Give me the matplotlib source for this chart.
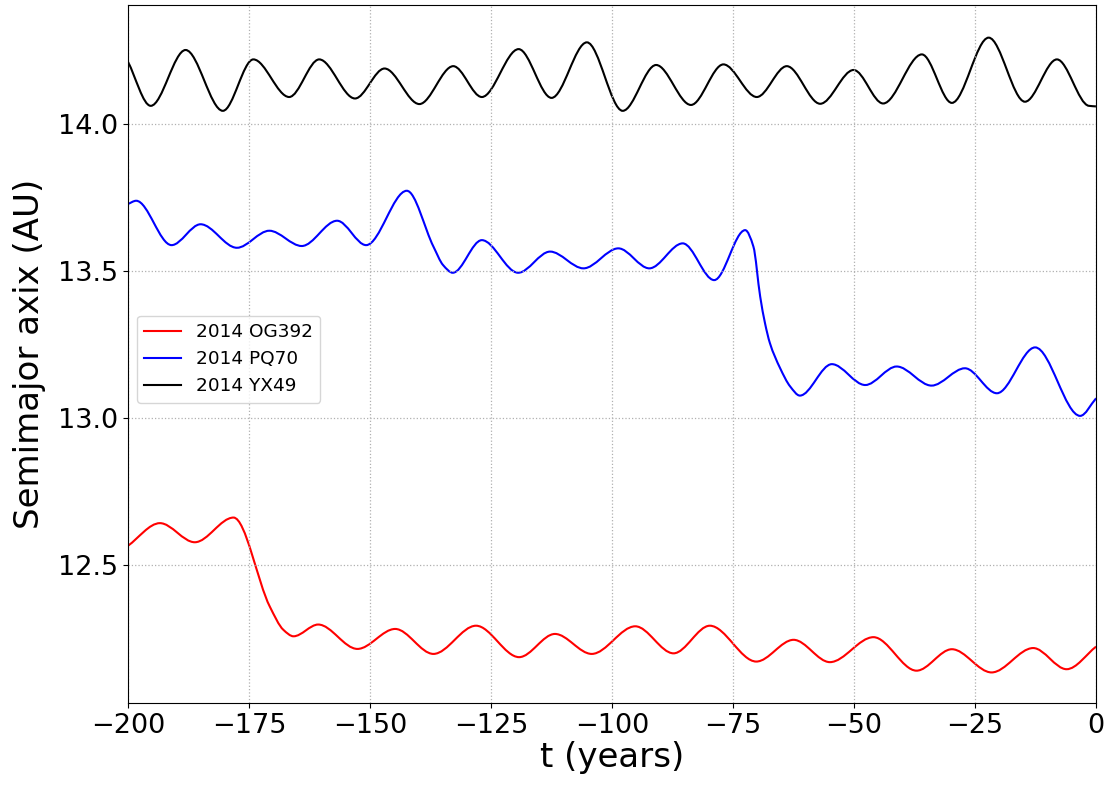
import numpy as np
import matplotlib
matplotlib.use("Agg")
import matplotlib.pyplot as plt
from matplotlib.path import Path
from matplotlib.patches import PathPatch
from matplotlib.lines import Line2D

# Values (turning points and shape points), t in years
og392_t = [-200, -193.4, -186.2, -178.2, -170.7, -167.9, -165.8, -160.7, -152.6,
           -144.8, -136.9, -128.1, -119.2, -111.8, -104.2, -95.2, -87.3, -79.8, -70.2, -62.5,
           -55.0, -46.0, -37.1, -29.8, -21.6, -13.0, -6.1, 0]
og392_a = [12.565, 12.642, 12.577, 12.661, 12.358, 12.279, 12.257, 12.297, 12.214,
           12.282, 12.197, 12.293, 12.186, 12.265, 12.197, 12.291, 12.199, 12.293, 12.171, 12.245,
           12.169, 12.254, 12.140, 12.213, 12.134, 12.217, 12.145, 12.222]

pq70_t = [-200, -198.3, -191.0, -185.0, -177.5, -170.8, -164.1, -156.8, -150.8, -142.4,
          -136.9, -134.9, -132.9, -126.9, -119.4, -112.8, -105.9, -98.7, -92.3, -85.4, -78.9,
          -72.5, -70.8, -69.4, -68.4, -67.4, -65.3, -63.2, -61.2, -54.6, -47.7, -41.2, -34.0,
          -27.1, -20.5, -12.6, -3.3, 0]
pq70_a = [13.728, 13.739, 13.588, 13.659, 13.579, 13.637, 13.585, 13.671, 13.588, 13.773,
          13.583, 13.520, 13.494, 13.605, 13.494, 13.566, 13.509, 13.577, 13.509, 13.594, 13.469,
          13.639, 13.583, 13.413, 13.322, 13.255, 13.170, 13.107, 13.076, 13.183, 13.112, 13.175, 13.110,
          13.169, 13.084, 13.240, 13.007, 13.067]

yx49_t = [-200, -195.3, -188.1, -180.4, -174.1, -166.7, -160.5, -153.1, -147.0, -139.8, -132.8,
          -126.9, -119.3, -112.5, -105.2, -97.8, -90.9, -83.7, -77.0, -70.1, -63.9, -57.0,
          -50.1, -44.0, -36.0, -29.8, -22.2, -14.7, -8.1, -1.5, 0]
yx49_a = [14.212, 14.062, 14.252, 14.045, 14.220, 14.092, 14.220, 14.087, 14.189, 14.068, 14.197,
          14.092, 14.255, 14.089, 14.278, 14.045, 14.201, 14.065, 14.203, 14.092, 14.197, 14.069,
          14.184, 14.070, 14.237, 14.072, 14.294, 14.076, 14.220, 14.062, 14.060]

labels = ["2014 OG392", "2014 PQ70", "2014 YX49"]
colors = ["red", "blue", "black"]


def smooth_path(t, a):
    """Build a smooth Bezier path through the read points (shape-preserving tangents)."""
    t = np.asarray(t, float)
    a = np.asarray(a, float)
    h = np.diff(t)
    d = np.diff(a) / h
    n = len(t)
    m = np.zeros(n)
    m[0] = d[0]
    m[-1] = d[-1]
    for k in range(1, n - 1):
        if d[k - 1] * d[k] <= 0:
            m[k] = 0.0
        else:
            w1 = 2 * h[k] + h[k - 1]
            w2 = h[k] + 2 * h[k - 1]
            m[k] = (w1 + w2) / (w1 / d[k - 1] + w2 / d[k])
    verts = [(t[0], a[0])]
    codes = [Path.MOVETO]
    for i in range(n - 1):
        verts += [(t[i] + h[i] / 3, a[i] + m[i] * h[i] / 3),
                  (t[i + 1] - h[i] / 3, a[i + 1] - m[i + 1] * h[i] / 3),
                  (t[i + 1], a[i + 1])]
        codes += [Path.CURVE4] * 3
    return Path(verts, codes)


fig = plt.figure(figsize=(11.09, 7.86), dpi=100)
ax = fig.add_axes([0.1154, 0.1056, 0.873, 0.888])

series = [(og392_t, og392_a), (pq70_t, pq70_a), (yx49_t, yx49_a)]
handles = []
for (t, a), c, lab in zip(series, colors, labels):
    ax.add_patch(PathPatch(smooth_path(t, a), facecolor="none", edgecolor=c, lw=1.5))
    handles.append(Line2D([0], [0], color=c, lw=1.5, label=lab))

ax.set_xlim(-200, 0)
ax.set_ylim(12.03, 14.405)
ax.set_xticks([-200, -175, -150, -125, -100, -75, -50, -25, 0])
ax.set_yticks([12.5, 13.0, 13.5, 14.0])
ax.tick_params(labelsize=19.5)
ax.grid(True, linestyle=":", color="#b0b0b0", lw=0.9)
ax.set_xlabel("t (years)", fontsize=24.5, labelpad=2)
ax.set_ylabel("Semimajor axix (AU)", fontsize=24.5, labelpad=9)
ax.legend(handles=handles, loc="lower left", bbox_to_anchor=(0.0093, 0.43),
          borderaxespad=0, fontsize=13.3)

fig.savefig("out.png", dpi=100)
